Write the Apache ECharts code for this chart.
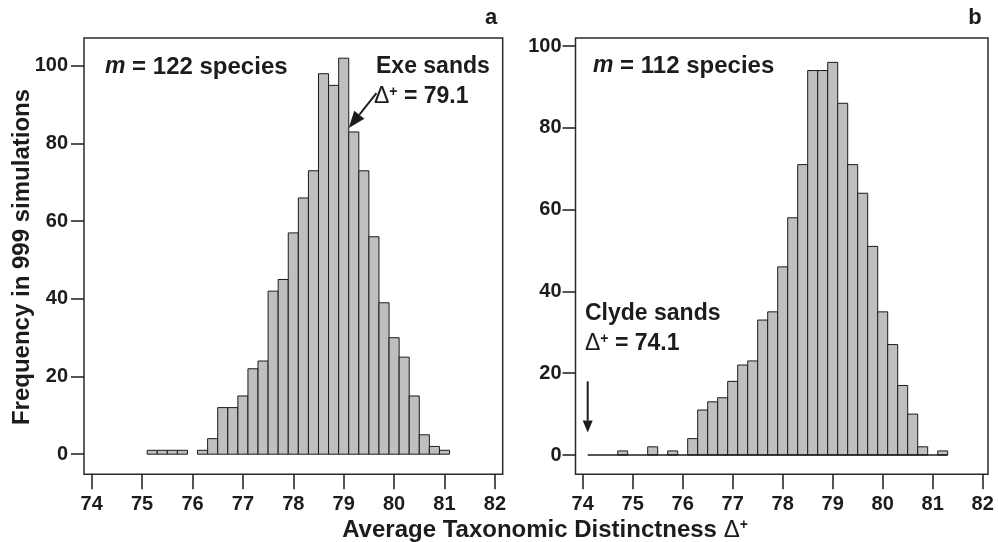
<!DOCTYPE html>
<html><head><meta charset="utf-8">
<script src="https://cdn.jsdelivr.net/npm/echarts@6/dist/echarts.min.js"></script>
<style>html,body{margin:0;padding:0;background:#fff}#c{width:998px;height:542px}</style>
</head><body><div id="c"></div>
<script>
// ---- data ----
const xTicks = [74, 75, 76, 77, 78, 79, 80, 81, 82];
const yTicks = [0, 20, 40, 60, 80, 100];
const binWidth = 0.2;
const exeFirstBin = 75.1;
const exeCounts = [1, 1, 1, 1, 0, 1, 4, 12, 12, 15, 22, 24, 42, 45, 57, 66, 73, 98, 95, 102, 83, 73, 56, 39, 30, 25, 15, 5, 2, 1];
const clydeFirstBin = 74.7;
const clydeCounts = [1, 0, 0, 2, 0, 1, 0, 4, 11, 13, 14, 18, 22, 23, 33, 35, 46, 58, 71, 94, 94, 96, 86, 71, 64, 51, 35, 27, 17, 10, 2, 0, 1];
const exeObserved = 79.1;
const clydeObserved = 74.1;
const exeArrow = [79.65, 93, exeObserved, 84];      // tail x,y -> tip x,y
const clydeArrow = [clydeObserved, 18, clydeObserved, 5.5];

// ---- chart ----
const INK = '#1c1c1c';
const FONT = '"Liberation Sans", Arial, sans-serif';
const chart = echarts.init(document.getElementById('c'));

function bins(first, counts) {
  return counts.map((c, i) => [first + i * binWidth, first + (i + 1) * binWidth, c]);
}
function histSeries(idx, data) {
  return {
    type: 'custom', xAxisIndex: idx, yAxisIndex: idx, data: data,
    encode: { x: [0, 1], y: 2 },
    renderItem(params, api) {
      const c = api.value(2);
      if (!c) return null;
      const p0 = api.coord([api.value(0), 0]);
      const p1 = api.coord([api.value(1), c]);
      return {
        type: 'rect',
        shape: { x: p0[0], y: p1[1], width: p1[0] - p0[0], height: p0[1] - p1[1] },
        style: { fill: '#bfbfbf', stroke: '#1a1a1a', lineWidth: 1 }
      };
    }
  };
}
function arrowSeries(idx, arr, headLen, headW) {
  return {
    type: 'custom', xAxisIndex: idx, yAxisIndex: idx, data: [arr],
    encode: { x: [0, 2], y: [1, 3] },
    renderItem(params, api) {
      const a = api.coord([api.value(0), api.value(1)]);
      const b = api.coord([api.value(2), api.value(3)]);
      const dx = b[0] - a[0], dy = b[1] - a[1];
      const L = Math.sqrt(dx * dx + dy * dy);
      const ux = dx / L, uy = dy / L;
      const bx = b[0] - ux * headLen, by = b[1] - uy * headLen;
      const px = -uy * headW / 2, py = ux * headW / 2;
      return {
        type: 'group', children: [
          { type: 'line', shape: { x1: a[0], y1: a[1], x2: bx, y2: by }, style: { stroke: INK, lineWidth: 2 } },
          { type: 'polygon', shape: { points: [[b[0], b[1]], [bx + px, by + py], [bx - px, by - py]] }, style: { fill: INK } }
        ]
      };
    }
  };
}
function xAx(idx, min, max) {
  return {
    type: 'value', gridIndex: idx, min: min, max: max,
    axisLine: { show: false, onZero: false }, splitLine: { show: false },
    axisTick: { show: true, inside: false, length: 15, customValues: xTicks, lineStyle: { color: INK, width: 1.5 } },
    axisLabel: { customValues: xTicks, margin: 20, fontSize: 20, fontWeight: 'bold', fontFamily: FONT, color: INK }
  };
}
function yAx(idx, min, max, margin) {
  return {
    type: 'value', gridIndex: idx, min: min, max: max,
    axisLine: { show: false, onZero: false }, splitLine: { show: false },
    axisTick: { show: true, inside: false, length: 13, customValues: yTicks, lineStyle: { color: INK, width: 1.5 } },
    axisLabel: { customValues: yTicks, margin: margin, fontSize: 20, fontWeight: 'bold', fontFamily: FONT, color: INK }
  };
}
const baseTxt = { fontSize: 23, fontWeight: 'bold', fontFamily: FONT, fill: INK };
const rich = {
  i: { fontSize: 23, fontWeight: 'bold', fontStyle: 'italic', fontFamily: FONT, color: INK },
  d: { fontSize: 23, fontWeight: 'normal', fontFamily: FONT, color: INK },
  s: { fontSize: 14, fontWeight: 'bold', fontFamily: FONT, color: INK, verticalAlign: 'top', lineHeight: 14 }
};
const richT = {
  d: { fontSize: 24, fontWeight: 'normal', fontFamily: FONT, color: INK },
  s: { fontSize: 14, fontWeight: 'bold', fontFamily: FONT, color: INK, verticalAlign: 'top', lineHeight: 14 }
};
function txt(x, y, text, size) {
  return { type: 'text', x: x, y: y, style: Object.assign({ text: text, rich: rich, verticalAlign: 'middle' }, baseTxt, size ? { fontSize: size } : {}) };
}

chart.setOption({
  backgroundColor: '#ffffff',
  animation: false,
  grid: [
    { left: 84, top: 38, width: 418.7, height: 436.3, show: true, borderColor: '#2a2a2a', borderWidth: 1.5, containLabel: false },
    { left: 575.5, top: 38, width: 412.5, height: 436.3, show: true, borderColor: '#2a2a2a', borderWidth: 1.5, containLabel: false }
  ],
  xAxis: [xAx(0, 73.847, 82.155), xAx(1, 73.856, 82.106)],
  yAxis: [yAx(0, -5.18, 107.2, 16), yAx(1, -4.72, 101.96, 14)],
  series: [
    histSeries(0, bins(exeFirstBin, exeCounts)),
    {
      type: 'line', xAxisIndex: 1, yAxisIndex: 1, symbol: 'none', silent: true,
      data: [[clydeObserved, 0], [clydeFirstBin + clydeCounts.length * binWidth, 0]],
      lineStyle: { color: INK, width: 1.3 }
    },
    histSeries(1, bins(clydeFirstBin, clydeCounts)),
    arrowSeries(0, exeArrow, 17, 13),
    arrowSeries(1, clydeArrow, 12, 10)
  ],
  graphic: [
    { type: 'text', x: 491, y: 18, style: Object.assign({ text: 'a', align: 'center', verticalAlign: 'middle' }, baseTxt, { fontSize: 22 }) },
    { type: 'text', x: 975, y: 18, style: Object.assign({ text: 'b', align: 'center', verticalAlign: 'middle' }, baseTxt, { fontSize: 22 }) },
    txt(105, 67, '{i|m} = 122 species', 24),
    txt(376, 67, 'Exe sands'),
    txt(374, 97, '{d|Δ}{s|+} = 79.1'),
    txt(593, 66, '{i|m} = 112 species', 24),
    txt(585, 314, 'Clyde sands'),
    txt(585, 344, '{d|Δ}{s|+} = 74.1'),
    {
      type: 'text', x: 22, y: 257, rotation: Math.PI / 2,
      style: Object.assign({ text: 'Frequency in 999 simulations', align: 'center', verticalAlign: 'middle' }, baseTxt, { fontSize: 24 })
    },
    {
      type: 'text', x: 545, y: 530,
      style: Object.assign({ text: 'Average Taxonomic Distinctness {d|Δ}{s|+}', rich: richT, align: 'center', verticalAlign: 'middle' }, baseTxt, { fontSize: 24 })
    }
  ]
});
</script>
</body></html>
